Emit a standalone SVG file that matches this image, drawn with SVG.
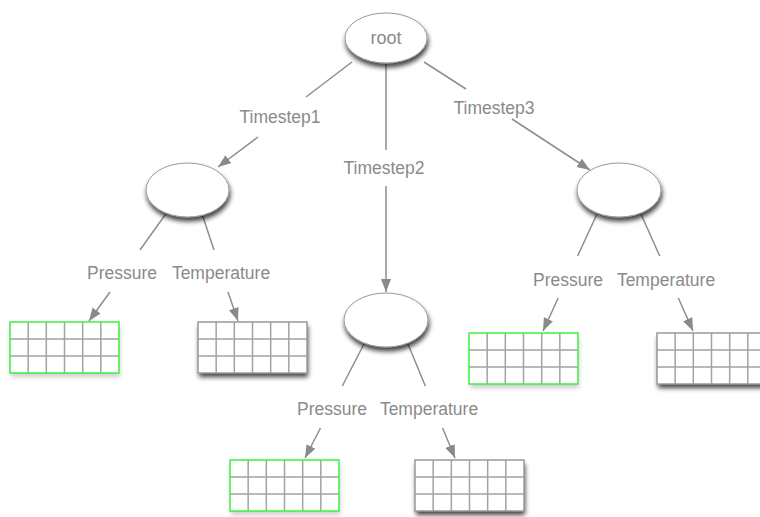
<svg xmlns="http://www.w3.org/2000/svg" xmlns:xlink="http://www.w3.org/1999/xlink" width="760" height="517" viewBox="0 0 760 517">
<style>
.ln{fill:none;stroke:#8e8e8e;stroke-width:1.5}
.lb{font-family:"Liberation Sans",Arial,sans-serif;font-size:17.5px;fill:#8a8a8a;text-anchor:middle}
.el{fill:#fff;stroke:#9a9a9a;stroke-width:1}
.gw{fill:#fff}
.gl{fill:none;stroke:#a3a3a3;stroke-width:1.5}
.gb{fill:none;stroke:#9a9a9a;stroke-width:1.5}
.gg{fill:none;stroke:#3ef03e;stroke-width:1.5}
</style>
<defs>
<marker id="ah" markerUnits="userSpaceOnUse" markerWidth="14" markerHeight="12" refX="13" refY="5" orient="auto">
<path d="M0,0 L13,5 L0,10 Z" fill="#8a8a8a"/>
</marker>
<filter id="sh" x="-20%" y="-20%" width="150%" height="170%">
<feGaussianBlur in="SourceAlpha" stdDeviation="2.5"/>
<feOffset dx="1" dy="4" result="o"/>
<feComponentTransfer><feFuncA type="linear" slope="0.75"/></feComponentTransfer>
<feMerge><feMergeNode/><feMergeNode in="SourceGraphic"/></feMerge>
</filter>
<filter id="sl" x="-20%" y="-20%" width="150%" height="170%">
<feGaussianBlur in="SourceAlpha" stdDeviation="2.5"/>
<feOffset dx="1" dy="4"/>
<feComponentTransfer><feFuncA type="linear" slope="0.2"/></feComponentTransfer>
<feMerge><feMergeNode/><feMergeNode in="SourceGraphic"/></feMerge>
</filter>
<path id="gridlines" class="gl" d="M18.17 0V51M36.33 0V51M54.5 0V51M72.67 0V51M90.83 0V51M0 17H109M0 34H109"/>
</defs>
<g id="connectors">
<path class="ln" d="M352,62 L306,97"/>
<path class="ln" d="M258,137 L218,167" marker-end="url(#ah)"/>
<path class="ln" d="M386,63 L386,150"/>
<path class="ln" d="M386,186 L386,292" marker-end="url(#ah)"/>
<path class="ln" d="M424,62 L466,89"/>
<path class="ln" d="M512,119 L590,170" marker-end="url(#ah)"/>
<path class="ln" d="M165.7,214 L140,250"/>
<path class="ln" d="M110,292 L89,321" marker-end="url(#ah)"/>
<path class="ln" d="M202,214 L214,250"/>
<path class="ln" d="M228,292 L238,321" marker-end="url(#ah)"/>
<path class="ln" d="M364,344 L342.3,386"/>
<path class="ln" d="M320.5,428 L305,458" marker-end="url(#ah)"/>
<path class="ln" d="M408,344 L425.3,386"/>
<path class="ln" d="M442.6,428 L455,458" marker-end="url(#ah)"/>
<path class="ln" d="M597,214 L577.6,256"/>
<path class="ln" d="M558.2,298 L543,331" marker-end="url(#ah)"/>
<path class="ln" d="M641,214 L659.7,256"/>
<path class="ln" d="M678.3,298 L693,331" marker-end="url(#ah)"/>
<text class="lb" x="280" y="123">Timestep1</text>
<text class="lb" x="384" y="174">Timestep2</text>
<text class="lb" x="494" y="114">Timestep3</text>
<text class="lb" x="122" y="279">Pressure</text>
<text class="lb" x="221" y="279">Temperature</text>
<text class="lb" x="332" y="415">Pressure</text>
<text class="lb" x="429" y="415">Temperature</text>
<text class="lb" x="568" y="286">Pressure</text>
<text class="lb" x="666" y="286">Temperature</text>
</g>
<g id="root">
<ellipse class="el" cx="386" cy="38" rx="41" ry="25" filter="url(#sh)"/>
<text class="lb" x="386" y="44" style="font-size:18px">root</text>
</g>
<g id="t1"><ellipse class="el" cx="187.5" cy="190" rx="41.5" ry="27" filter="url(#sh)"/></g>
<g id="t2"><ellipse class="el" cx="386" cy="320" rx="42" ry="27" filter="url(#sh)"/></g>
<g id="t3"><ellipse class="el" cx="619" cy="190" rx="42" ry="27" filter="url(#sh)"/></g>
<g id="t1-pressure" transform="translate(10,322)">
<rect class="gw" width="109" height="51" filter="url(#sl)"/>
<use xlink:href="#gridlines" href="#gridlines"/>
<rect class="gg" width="109" height="51"/>
</g>
<g id="t1-temperature" transform="translate(198,322)">
<rect class="gw" width="109" height="51" filter="url(#sh)"/>
<use xlink:href="#gridlines" href="#gridlines"/>
<rect class="gb" width="109" height="51"/>
</g>
<g id="t3-pressure" transform="translate(469,333)">
<rect class="gw" width="109" height="51" filter="url(#sl)"/>
<use xlink:href="#gridlines" href="#gridlines"/>
<rect class="gg" width="109" height="51"/>
</g>
<g id="t3-temperature" transform="translate(657,333)">
<rect class="gw" width="109" height="51" filter="url(#sh)"/>
<use xlink:href="#gridlines" href="#gridlines"/>
<rect class="gb" width="109" height="51"/>
</g>
<g id="t2-pressure" transform="translate(230,460)">
<rect class="gw" width="109" height="51" filter="url(#sl)"/>
<use xlink:href="#gridlines" href="#gridlines"/>
<rect class="gg" width="109" height="51"/>
</g>
<g id="t2-temperature" transform="translate(415,460)">
<rect class="gw" width="109" height="51" filter="url(#sh)"/>
<use xlink:href="#gridlines" href="#gridlines"/>
<rect class="gb" width="109" height="51"/>
</g>
</svg>
